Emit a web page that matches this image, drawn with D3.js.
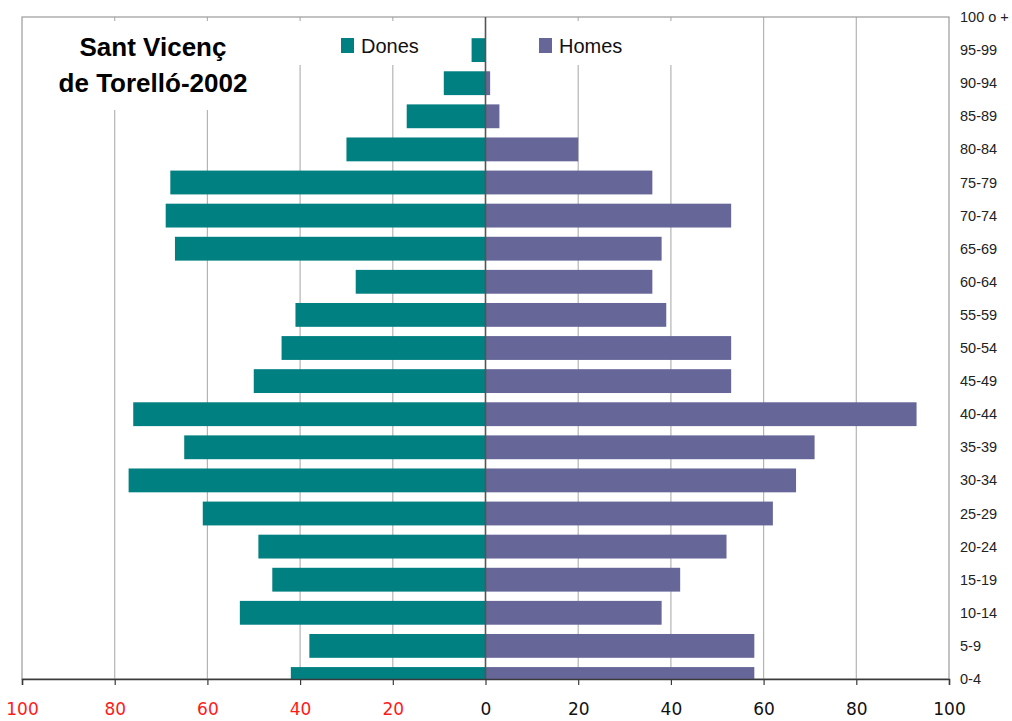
<!DOCTYPE html>
<html>
<head>
<meta charset="utf-8">
<script src="https://cdn.jsdelivr.net/npm/d3@7"></script>
<style>
    body { margin: 0; background: #fff; }
    svg { display: block; }
</style>
</head>
<body>
<script>
// age groups, bottom to top
var ages = ["0-4", "5-9", "10-14", "15-19", "20-24", "25-29", "30-34", "35-39", "40-44", "45-49",
    "50-54", "55-59", "60-64", "65-69", "70-74", "75-79", "80-84", "85-89", "90-94", "95-99", "100 o +"];
var dones = [42, 38, 53, 46, 49, 61, 77, 65, 76, 50, 44, 41, 28, 67, 69, 68, 30, 17, 9, 3, 0];
var homes = [58, 58, 38, 42, 52, 62, 67, 71, 93, 53, 53, 39, 36, 38, 53, 36, 20, 3, 1, 0, 0];
var xTicks = [-100, -80, -60, -40, -20, 0, 20, 40, 60, 80, 100];
var titleLines = ["Sant Vicenç", "de Torelló-2002"];
var seriesNames = ["Dones", "Homes"];

function drawPyramid() {
    var width = 1012, height = 721;
    var plot = {left: 22, right: 949, top: 17, bottom: 679};
    var colDones = "#008080", colHomes = "#666699";

    var xScale = d3.scaleLinear().domain([-100, 100]).range([plot.left, plot.right]);
    var yScale = d3.scalePoint().domain(ages).range([plot.bottom, plot.top]);
    var barH = yScale.step() * 0.72;

    var data = ages.map(function (a, i) {
        return {age: a, dones: dones[i], homes: homes[i]};
    });

    var svg = d3.select("body").append("svg")
        .attr("width", width).attr("height", height);
    svg.append("rect").attr("width", width).attr("height", height).attr("fill", "#fff");

    svg.append("clipPath").attr("id", "plotClip")
        .append("rect")
        .attr("x", plot.left).attr("y", plot.top)
        .attr("width", plot.right - plot.left).attr("height", plot.bottom - plot.top);

    // gridlines
    svg.append("g").selectAll("line")
        .data(xTicks.filter(function (t) { return t !== 0 && Math.abs(t) !== 100; }))
        .enter().append("line")
        .attr("x1", function (d) { return xScale(d); })
        .attr("x2", function (d) { return xScale(d); })
        .attr("y1", plot.top).attr("y2", plot.bottom)
        .attr("stroke", "#b4b4b4").attr("stroke-width", 1.2);

    // plot border
    svg.append("rect")
        .attr("x", plot.left).attr("y", plot.top)
        .attr("width", plot.right - plot.left).attr("height", plot.bottom - plot.top)
        .attr("fill", "none").attr("stroke", "#9a9a9a").attr("stroke-width", 1.2);

    // white boxes behind title and legend hide the gridlines
    svg.append("rect").attr("x", 40).attr("y", 21).attr("width", 232).attr("height", 89).attr("fill", "#fff");
    svg.append("rect").attr("x", 282).attr("y", 21).attr("width", 420).attr("height", 44).attr("fill", "#fff");

    var bars = svg.append("g").attr("clip-path", "url(#plotClip)");

    bars.selectAll("rect.dones")
        .data(data)
        .enter().append("rect")
        .attr("class", "dones")
        .attr("x", function (d) { return xScale(-d.dones); })
        .attr("width", function (d) { return xScale(0) - xScale(-d.dones); })
        .attr("y", function (d) { return yScale(d.age) - barH / 2; })
        .attr("height", barH)
        .attr("fill", colDones);

    bars.selectAll("rect.homes")
        .data(data)
        .enter().append("rect")
        .attr("class", "homes")
        .attr("x", xScale(0))
        .attr("width", function (d) { return xScale(d.homes) - xScale(0); })
        .attr("y", function (d) { return yScale(d.age) - barH / 2; })
        .attr("height", barH)
        .attr("fill", colHomes);

    // zero line
    svg.append("line")
        .attr("x1", xScale(0)).attr("x2", xScale(0))
        .attr("y1", plot.top).attr("y2", plot.bottom)
        .attr("stroke", "#555").attr("stroke-width", 1.6);

    // x axis
    var xAxis = d3.axisBottom(xScale)
        .tickValues(xTicks)
        .tickSize(6)
        .tickFormat(function (d) { return Math.abs(d); });

    var gx = svg.append("g")
        .attr("transform", "translate(0," + plot.bottom + ")")
        .call(xAxis);
    gx.select(".domain").attr("stroke", "#3a3a3a").attr("stroke-width", 1.5);
    gx.selectAll(".tick line").attr("stroke", "#3a3a3a").attr("stroke-width", 1.2);
    gx.selectAll(".tick text")
        .attr("y", 24)
        .style("font-family", "'DejaVu Sans', sans-serif")
        .style("font-size", "17px")
        .attr("fill", function (d) { return d < 0 ? "#ff1a1a" : "#111"; });

    // age labels on the right
    svg.append("g").selectAll("text")
        .data(ages)
        .enter().append("text")
        .attr("x", 960)
        .attr("y", function (d) { return yScale(d); })
        .attr("dy", "0.35em")
        .style("font-family", "'Liberation Sans', Arial, sans-serif")
        .style("font-size", "14.5px")
        .attr("fill", "#222")
        .text(function (d) { return d; });

    // title
    svg.append("g").selectAll("text")
        .data(titleLines)
        .enter().append("text")
        .attr("x", 153)
        .attr("y", function (d, i) { return 56 + i * 36; })
        .attr("text-anchor", "middle")
        .style("font-family", "'Liberation Sans', Arial, sans-serif")
        .style("font-size", "26px")
        .style("font-weight", "bold")
        .attr("fill", "#000")
        .text(function (d) { return d; });

    // legend
    var legendX = [341, 539];
    var legendCol = [colDones, colHomes];
    var legend = svg.append("g").selectAll("g")
        .data(seriesNames)
        .enter().append("g")
        .attr("transform", function (d, i) { return "translate(" + legendX[i] + ",0)"; });
    legend.append("rect")
        .attr("x", 0).attr("y", 38)
        .attr("width", 13).attr("height", 15)
        .attr("fill", function (d, i) { return legendCol[i]; });
    legend.append("text")
        .attr("x", 20).attr("y", 53)
        .style("font-family", "'Liberation Sans', Arial, sans-serif")
        .style("font-size", "20px")
        .attr("fill", "#111")
        .text(function (d) { return d; });
}

drawPyramid();
</script>
</body>
</html>
